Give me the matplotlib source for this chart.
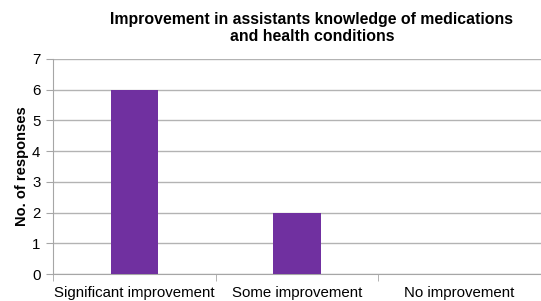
import numpy as np
import matplotlib
matplotlib.use("Agg")
import matplotlib.pyplot as plt

categories = ["Significant improvement", "Some improvement", "No improvement"]
responses = [6, 2, 0]
yticks = [0, 1, 2, 3, 4, 5, 6, 7]

plt.rcParams['font.family'] = ['Liberation Sans', 'DejaVu Sans']

fig = plt.figure(figsize=(5.41, 3.01), dpi=100)
ax = fig.add_axes([53/541, 1-274/301, 1-53/541, 215/301])

x = np.arange(len(categories))
ax.bar(x, responses, width=0.29, color="#7030A0", zorder=3)

ax.set_xlim(-0.5, len(categories)-0.5)
ax.set_ylim(0, 7)
ax.set_yticks(yticks)
ax.set_yticklabels([str(v) for v in yticks], fontsize=10.8)
ax.yaxis.grid(True, color="#b3b3b3", linewidth=1, zorder=0)

# category labels, ticks between categories
ax.set_xticks(x)
ax.set_xticklabels(categories, fontsize=10.8)
ax.tick_params(axis="x", length=0, pad=9)
ax.set_xticks(np.arange(-0.5, len(categories)), minor=True)
ax.tick_params(axis="x", which="minor", length=5, color="#a6a6a6")
ax.tick_params(axis="y", length=5, color="#a6a6a6", pad=4)

for s in ["top", "right"]:
    ax.spines[s].set_visible(False)
for s in ["left", "bottom"]:
    ax.spines[s].set_color("#a6a6a6")

ax.set_ylabel("No. of responses", fontsize=10.5, fontweight="bold")
ax.yaxis.set_label_coords(-24/488, 0.5)
fig.text(312/541, 1-28/301, "Improvement in assistants knowledge of medications\nand health conditions",
         ha="center", va="center", fontsize=11.4, fontweight="bold", linespacing=1.2)

fig.savefig("out.png", dpi=100)
